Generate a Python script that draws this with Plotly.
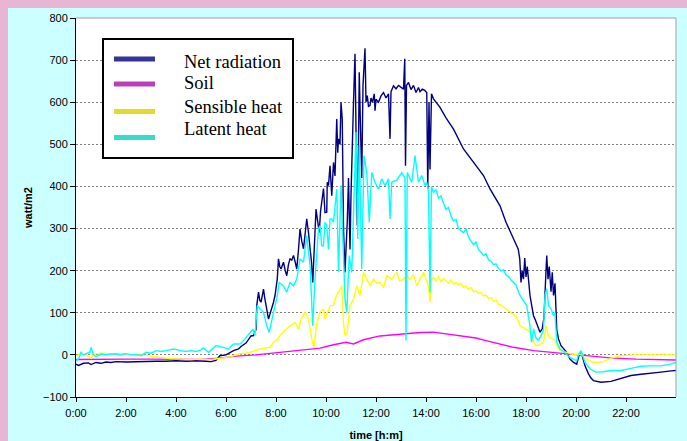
import plotly.graph_objects as go

# ---------------- data (time in hours, values in watt/m2) ----------------
net_t = [0.0, 0.1, 0.3, 0.5, 0.6, 0.8, 1.0, 1.2, 1.4, 1.6, 2.0, 2.4, 2.7, 3.2, 3.6, 4.0, 4.4, 4.8, 5.2, 5.4, 5.6,
         5.75, 6.0, 6.2, 6.3, 6.5, 6.6, 6.8, 6.9, 7.0, 7.1, 7.2, 7.23, 7.3, 7.35, 7.4, 7.45, 7.5, 7.55, 7.6, 7.7,
         7.75, 7.83, 7.9, 7.96, 8.05, 8.1, 8.15, 8.2, 8.25, 8.3, 8.37, 8.43, 8.5, 8.56, 8.63, 8.7, 8.77, 8.83,
         8.9, 8.96, 9.03, 9.1, 9.17, 9.23, 9.3, 9.36, 9.42, 9.47, 9.53, 9.6, 9.66, 9.73, 9.78, 9.83, 9.9, 9.96,
         10.03, 10.05, 10.1, 10.16, 10.23, 10.3, 10.36, 10.43, 10.47, 10.5, 10.56, 10.6, 10.65, 10.7, 10.76,
         10.8, 10.85, 10.9, 10.96, 11.0, 11.05, 11.1, 11.16, 11.2, 11.25, 11.3, 11.33, 11.38, 11.43, 11.48,
         11.56, 11.6, 11.65, 11.7, 11.76, 11.8, 11.86, 11.93, 11.96, 12.0, 12.1, 12.2, 12.3, 12.4, 12.5, 12.56,
         12.6, 12.7, 12.8, 12.9, 13.0, 13.1, 13.15, 13.18, 13.22, 13.3, 13.4, 13.5, 13.6, 13.7, 13.76, 13.85,
         13.95, 14.03, 14.07, 14.12, 14.16, 14.22, 14.3, 14.56, 14.8, 15.1, 15.5, 15.9, 16.3, 16.56, 16.96,
         17.2, 17.36, 17.56, 17.69, 17.75, 17.8, 17.85, 17.9, 17.95, 18.0, 18.05, 18.1, 18.16, 18.22, 18.3,
         18.36, 18.45, 18.56, 18.65, 18.72, 18.8, 18.83, 18.88, 18.93, 19.0, 19.05, 19.1, 19.16, 19.23, 19.3,
         19.4, 19.5, 19.63, 19.76, 19.9, 20.03, 20.1, 20.2, 20.3, 20.36, 20.5, 20.6, 20.7, 21.0, 21.4, 21.8,
         22.2, 22.6, 23.0, 23.4, 23.8, 24.0]
net_v = [-22, -25, -20, -19, -23, -18, -20, -17, -18, -16, -17, -16, -17, -15, -15, -14, -15, -14, -15, -16, -13,
         -2, 0, 8, 10, 14, 20, 28, 38, 45, 46, 60, 117, 149, 130, 125, 140, 156, 135, 117, 85,
         95, 109, 125, 141, 180, 228, 210, 204, 215, 220, 200, 188, 215, 228, 225, 236, 220, 204,
         250, 299, 270, 252, 290, 323, 290, 259, 220, 172, 260, 346, 320, 291, 340, 370, 395, 338,
         339, 410, 402, 449, 378, 457, 425, 560, 480, 513, 500, 600, 560, 300, 196,
         250, 315, 420, 250, 380, 520, 600, 715, 560, 307, 500, 671, 540, 420, 640,
         728, 600, 616, 590, 592, 610, 600, 620, 580, 607, 600, 615, 623, 610, 620, 513,
         625, 639, 632, 640, 635, 631, 703, 449, 640, 647, 630, 640, 623, 635, 625, 631,
         628, 623, 394, 600, 440, 620, 608, 588, 563, 536, 489, 457, 426, 394, 354,
         315, 295, 267, 251, 228, 172, 200, 180, 230, 185, 210, 175, 141, 120, 93,
         85, 70, 54, 62, 90, 200, 236, 180, 210, 150, 196, 141, 170, 60, 38,
         22, 15, 6, -10, -18, -22, -5, 8, -15, -26, -45, -55, -61, -65, -63, -56,
         -49, -46, -44, -41, -38, -37]

soil_t = [0, 1, 2, 3, 4, 5, 5.7, 6.4, 7.2, 8.0, 8.56, 9.2, 9.76, 10.3, 10.8, 11.1, 11.5, 12.16, 13.1, 13.76,
          14.3, 14.8, 15.4, 16.0, 16.4, 16.96, 17.5, 18.3, 19.0, 19.63, 20.2, 20.56, 21.36, 22.4, 23.2, 24]
soil_v = [-11, -10, -10, -10, -10, -11, -8, -3, 0, 5, 10, 13, 16, 24, 30, 26, 36, 45, 50, 53,
          54, 50, 46, 40, 34, 26, 18, 10, 6, 2, -1, -4, -7, -10, -11, -12]

sens_t = [0.0, 0.2, 0.4, 0.6, 0.7, 1.0, 1.4, 1.8, 2.2, 2.6, 3.0, 3.4, 3.8, 4.2, 4.6, 5.0, 5.4, 5.8, 6.2, 6.5,
          6.96, 7.36, 7.76, 7.9, 8.03, 8.16, 8.36, 8.56, 8.76, 8.9, 9.03, 9.16, 9.3, 9.43, 9.52, 9.63, 9.76,
          9.9, 9.96, 10.1, 10.16, 10.3, 10.36, 10.5, 10.63, 10.7, 10.76, 10.85, 10.96, 11.1, 11.23, 11.36,
          11.5, 11.63, 11.76, 11.9, 12.03, 12.16, 12.3, 12.43, 12.63, 12.83, 12.95, 13.1, 13.23, 13.36, 13.5,
          13.63, 13.76, 13.9, 14.03, 14.1, 14.16, 14.22, 14.3, 14.4, 14.5, 14.6, 14.7, 14.8, 14.9, 15.0,
          15.1, 15.2, 15.3, 15.4, 15.5, 15.6, 15.7, 15.8, 15.9, 16.0, 16.1, 16.2, 16.3, 16.4, 16.5, 16.6,
          16.7, 16.8, 16.9, 17.0, 17.1, 17.2, 17.3, 17.4, 17.5, 17.6, 17.7, 17.76, 17.96, 18.1, 18.2, 18.3,
          18.4, 18.55, 18.7, 18.8, 18.9, 19.0, 19.16, 19.23, 19.36, 19.63, 19.9, 20.2, 20.36, 20.7, 21.1,
          21.5, 21.8, 22.4, 23.0, 23.6, 24.0]
sens_v = [-2, 2, 0, -8, 2, 4, 2, 3, 1, 0, -3, -6, -9, -10, -11, -10, -11, -8, -4, 2,
          6, 14, 18, 30, 35, 46, 58, 69, 77, 62, 89, 101, 85, 38, 18, 77, 101,
          109, 85, 105, 117, 117, 133, 149, 164, 77, 46, 54, 117, 133, 164, 141,
          196, 180, 164, 180, 170, 172, 160, 188, 180, 196, 175, 180, 188, 180, 190,
          164, 180, 196, 175, 164, 125, 180, 184, 176, 186, 174, 182, 176, 170, 178,
          168, 172, 166, 170, 160, 164, 156, 160, 150, 152, 146, 148, 140, 142, 134, 136,
          128, 130, 120, 118, 114, 110, 106, 100, 96, 92, 80, 69, 62, 58, 46, 30,
          22, 25, 30, 69, 45, 40, 35, 22, 10, 6, 0, 2, -8, -18, -16,
          -6, -2, 0, 0, 0, 0]

lat_t = [0.0, 0.1, 0.2, 0.3, 0.45, 0.55, 0.6, 0.7, 0.8, 1.0, 1.2, 1.4, 1.6, 1.8, 2.0, 2.2, 2.4, 2.6, 2.8, 3.0,
         3.2, 3.4, 3.6, 3.9, 4.2, 4.4, 4.6, 4.8, 5.0, 5.1, 5.3, 5.6, 5.9, 6.1, 6.3, 6.56, 6.76, 6.96, 7.07,
         7.16, 7.25, 7.36, 7.5, 7.63, 7.73, 7.9, 8.03, 8.13, 8.3, 8.43, 8.56, 8.7, 8.83, 8.96, 9.1, 9.23,
         9.36, 9.47, 9.56, 9.7, 9.76, 9.83, 9.9, 9.96, 10.03, 10.1, 10.16, 10.23, 10.3, 10.43, 10.5, 10.6,
         10.7, 10.76, 10.83, 10.93, 11.03, 11.1, 11.2, 11.27, 11.33, 11.43, 11.52, 11.63, 11.73, 11.83,
         11.96, 12.1, 12.23, 12.36, 12.5, 12.56, 12.63, 12.83, 13.03, 13.16, 13.2, 13.25, 13.43, 13.56,
         13.7, 13.83, 13.96, 14.03, 14.1, 14.16, 14.22, 14.3, 14.4, 14.5, 14.6, 14.7, 14.8, 14.9, 15.0,
         15.1, 15.2, 15.3, 15.4, 15.5, 15.6, 15.7, 15.8, 15.9, 16.0, 16.1, 16.2, 16.3, 16.4, 16.5, 16.6,
         16.7, 16.8, 16.9, 17.0, 17.1, 17.2, 17.3, 17.4, 17.5, 17.6, 17.7, 17.76, 18.03, 18.16, 18.22,
         18.3, 18.4, 18.5, 18.6, 18.7, 18.76, 18.83, 18.9, 19.0, 19.1, 19.16, 19.23, 19.36, 19.5, 19.63,
         19.76, 19.9, 20.03, 20.1, 20.2, 20.36, 20.56, 20.8, 21.1, 21.4, 21.8, 22.2, 22.6, 23.0, 23.4,
         23.76, 24.0]
lat_v = [-14, -10, 6, 0, 4, 6, 18, 0, -4, 2, 0, 2, 2, 0, 3, 0, 1, -2, 6, 4,
         10, 8, 10, 14, 10, 8, 10, 8, 12, 16, 6, 22, 18, 14, 26, 26, 38, 54, 61,
         46, 117, 109, 101, 69, 54, 101, 133, 172, 164, 149, 172, 164, 180, 228, 220, 283,
         212, 69, 180, 299, 307, 259, 259, 315, 307, 250, 323, 323, 315, 394, 196, 402,
         236, 133, 101, 236, 196, 354, 529, 275, 497, 204, 473, 433, 315, 433,
         410, 394, 418, 402, 418, 323, 410, 415, 433, 420, 34, 433, 410, 473,
         410, 426, 402, 410, 386, 148, 400, 386, 392, 372, 378, 360, 345, 350, 330,
         318, 322, 300, 296, 290, 300, 280, 270, 262, 268, 250, 244, 236, 240, 226, 222,
         214, 216, 205, 200, 202, 190, 186, 178, 172, 166, 150, 141, 117, 69, 30,
         62, 40, 35, 45, 60, 141, 157, 117, 110, 93, 100, 30, 14, 8, 2,
         -6, -10, -14, 0, 10, -18, -33, -41, -40, -37, -37, -32, -27, -26, -26,
         -22, -18]

series_names = ["Net radiation", "Soil", "Sensible heat", "Latent heat"]
line_colors = ["#000080", "#ff00ff", "#ffff00", "#00ffff"]
legend_colors = ["#333399", "#bb3ebb", "#e3da2c", "#36dccb"]

tick_vals = list(range(0, 24, 2))
tick_text = [f"{h}:00" for h in tick_vals]
y_ticks = list(range(-100, 801, 100))

# ---------------- figure ----------------
L, R, T, B = 76, 676, 18, 397
W, H = 687, 441
pw, ph = R - L, B - T


def px(x):
    return (x - L) / pw


def py(y):
    return (B - y) / ph


fig = go.Figure()
data = [(net_t, net_v), (soil_t, soil_v), (sens_t, sens_v), (lat_t, lat_v)]
for i, (t, v) in enumerate(data):
    fig.add_trace(go.Scatter(x=t, y=v, mode="lines", name=series_names[i],
                             line=dict(color=line_colors[i], width=1.4),
                             showlegend=False, hoverinfo="skip"))

shapes = [
    # pink frame strips (top and left)
    dict(type="rect", xref="paper", yref="paper", x0=px(-5), x1=px(W + 5), y0=py(8), y1=py(-5),
         fillcolor="#e8b6d4", line=dict(width=0), layer="below"),
    dict(type="rect", xref="paper", yref="paper", x0=px(-5), x1=px(8), y0=py(H + 5), y1=py(-5),
         fillcolor="#e8b6d4", line=dict(width=0), layer="below"),
    # gray top/right plot border
    dict(type="line", xref="paper", yref="paper", x0=0, x1=1, y0=1, y1=1,
         line=dict(color="#a0a0a0", width=1)),
    dict(type="line", xref="paper", yref="paper", x0=1, x1=1, y0=0, y1=1,
         line=dict(color="#a0a0a0", width=1)),
    # legend frame
    dict(type="rect", xref="paper", yref="paper", x0=px(103), x1=px(293), y0=py(158), y1=py(39),
         fillcolor="white", line=dict(color="black", width=2), layer="above"),
]
annotations = []
swatch_y = [59, 84, 111.5, 137.5]
text_y = [62, 83, 107, 129]
for i in range(4):
    shapes.append(dict(type="rect", xref="paper", yref="paper", x0=px(114), x1=px(155),
                       y0=py(swatch_y[i] + 2.5), y1=py(swatch_y[i] - 2.5),
                       fillcolor=legend_colors[i], line=dict(width=0), layer="above"))
    annotations.append(dict(xref="paper", yref="paper", x=px(182), y=py(text_y[i]),
                            xanchor="left", yanchor="middle", showarrow=False,
                            text=series_names[i],
                            font=dict(family="Liberation Serif", size=18.5, color="black")))

fig.update_layout(
    width=W, height=H,
    margin=dict(l=L, r=W - R, t=T, b=H - B, autoexpand=False),
    paper_bgcolor="#ccffff",
    plot_bgcolor="white",
    shapes=shapes,
    annotations=annotations,
    showlegend=False,
    font=dict(family="Liberation Sans", size=11, color="black"),
    xaxis=dict(range=[0, 24], tickvals=tick_vals, ticktext=tick_text, automargin=False,
               showgrid=False, zeroline=False, showline=True, linecolor="black", linewidth=1,
               ticks="outside", ticklen=4, tickcolor="black", ticklabelstandoff=2,
               title=dict(text="<b>time [h:m]</b>", font=dict(size=11), standoff=13)),
    yaxis=dict(range=[-100, 800], tickvals=y_ticks, automargin=False,
               showgrid=True, gridcolor="#808080", gridwidth=1, griddash="2px,2px",
               zeroline=False, showline=True, linecolor="black", linewidth=1,
               ticks="outside", ticklen=5, tickcolor="black",
               title=dict(text="<b>watt/m2</b>", font=dict(size=11), standoff=8)),
)

fig.write_html("out.html", config={"displayModeBar": False},
               post_script="document.body.style.margin='0px';")
